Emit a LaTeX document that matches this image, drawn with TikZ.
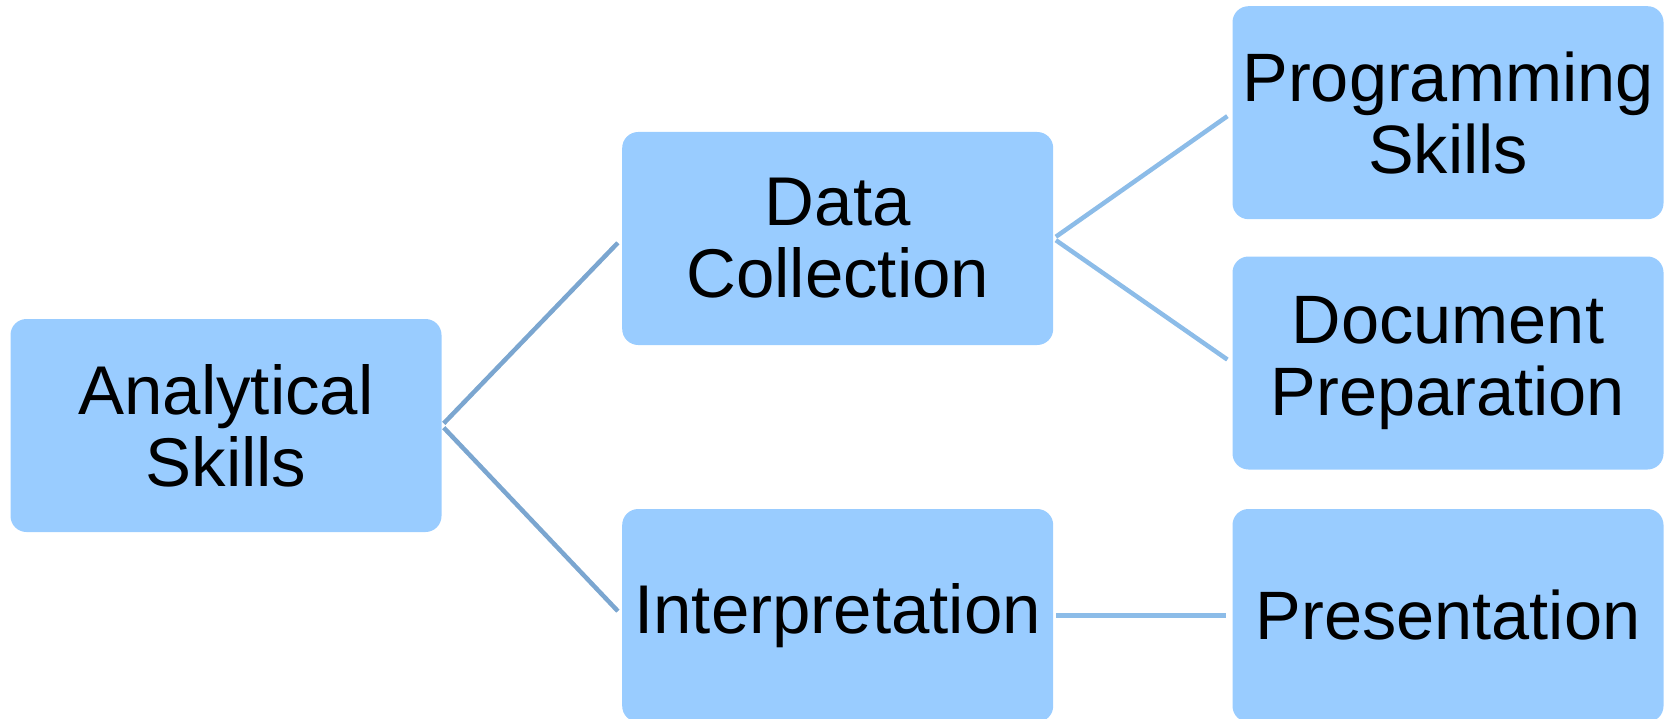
\documentclass[tikz,border=0pt]{standalone}
\usepackage{fontspec}
\setmainfont{Liberation Sans}
\begin{document}
\begin{tikzpicture}[x=1pt,y=-1pt,
  skillbox/.style={rectangle, rounded corners=16pt, fill=boxblue, draw=none,
    minimum width=431pt, minimum height=213pt, inner sep=0pt, align=center,
    font=\fontsize{69}{72}\selectfont},
  leafbox/.style={skillbox, font=\fontsize{68.5}{72}\selectfont},
  linkA/.style={draw=linkdark, line width=4.5pt, shorten <=3pt, shorten >=6pt},
  linkB/.style={draw=linklight, line width=4.5pt, shorten <=3pt, shorten >=6pt}]
\definecolor{boxblue}{HTML}{99CCFF}
\definecolor{linkdark}{HTML}{7BA6D0}
\definecolor{linklight}{HTML}{8CBCE8}
\useasboundingbox (0,0) rectangle (1669,719);

\node[skillbox] (ana) at (226,425.5) {Analytical\\Skills};
\node[skillbox] (dat) at (837.7,238.5) {Data\\Collection};
\node[skillbox] (int) at (837.7,615.5) {Interpretation};
\node[leafbox] (prg) at (1448,112.7) {Programming\\Skills};
\node[leafbox] (doc) at (1448,363) {Document\\Preparation};
\node[leafbox] (pre) at (1448,615.5) {Presentation};

\draw[linkA] (ana.east) -- (dat.west);
\draw[linkA] (ana.east) -- (int.west);
\draw[linkB] (dat.east) -- (prg.west);
\draw[linkB] (dat.east) -- (doc.west);
\draw[linkB] (int.east) -- (pre.west);
\end{tikzpicture}
\end{document}
